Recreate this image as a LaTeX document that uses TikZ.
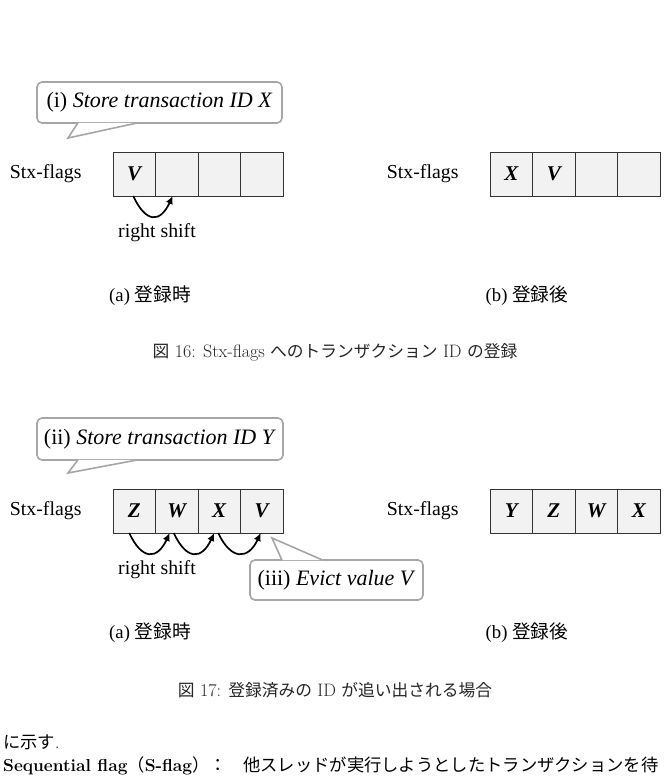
\documentclass[tikz,border=0pt]{standalone}
\usepackage{fontspec}
\usepackage{tikz}
\usetikzlibrary{arrows.meta,positioning}

\newfontfamily\timesfont{Liberation Serif}
\newfontfamily\jpfont{Noto Sans CJK JP}
\newfontfamily\jpcapfont[Scale=0.93]{Noto Sans CJK JP}

\newcommand{\figfont}{\timesfont\fontsize{19.8}{23}\selectfont}
\newcommand{\callfont}{\timesfont\fontsize{22}{26}\selectfont}
\newcommand{\cellfont}{\timesfont\bfseries\itshape\fontsize{21}{24}\selectfont}
\newcommand{\subcapfont}{\timesfont\fontsize{18.7}{22}\selectfont}
\newcommand{\capfont}{\fontsize{18}{21}\selectfont}
\newcommand{\bodyfont}{\fontsize{17.3}{21}\selectfont}

\begin{document}
\begin{tikzpicture}[
  x=1pt, y=1pt,
  cell/.style={draw=black!80, fill=black!5, line width=1pt, outer sep=0pt,
               inner sep=0pt, minimum width=42.5pt, minimum height=44pt,
               font=\cellfont},
  flaglabel/.style={font=\figfont},
  callbox/.style={draw=black!35, fill=white, line width=1.6pt,
                  rounded corners=5pt, inner sep=0pt, font=\callfont},
  calltail/.style={draw=black!35, fill=white, line width=1.6pt},
  shiftarrow/.style={-{Latex[length=8pt,width=7.5pt]}, line width=1.7pt},
  subcap/.style={font=\subcapfont},
  captext/.style={font=\capfont, text=black!85},
  bodytext/.style={font=\bodyfont, anchor=base west, inner sep=0pt}
]
\fill[white] (0,0) rectangle (669,-779);
\useasboundingbox (0,0) rectangle (669,-779);

% Fig. 16 (a): storing
\node[callbox, minimum width=245pt, minimum height=41pt] (storex) at (159.5,-102.5)
  {(i) \textit{Store transaction ID X}};
\coordinate (storextip) at (68,-138);
\path[calltail] ([xshift=-81.5pt,yshift=1pt]storex.south) -- (storextip)
  -- ([xshift=-21.5pt,yshift=1pt]storex.south);

\node[cell] (pre1) at (134.25,-174) {V};
\node[cell, right=0pt of pre1] (pre2) {};
\node[cell, right=0pt of pre2] (pre3) {};
\node[cell, right=0pt of pre3] (pre4) {};
\node[flaglabel, left=28pt of pre1] (prelbl) {Stx-flags};
\draw[shiftarrow] ([xshift=-1pt]pre1.south) .. controls +(-65:30) and +(-115:30) .. ([xshift=-4pt]pre2.south);
\node[flaglabel] (preshift) at (157,-233) {right shift};
\node[subcap] (suba1) at (150,-296) {(a) {\jpfont 登録時}};

% Fig. 16 (b): after storing
\node[cell] (post1) at (511.25,-174) {X};
\node[cell, right=0pt of post1] (post2) {V};
\node[cell, right=0pt of post2] (post3) {};
\node[cell, right=0pt of post3] (post4) {};
\node[flaglabel, left=28pt of post1] (postlbl) {Stx-flags};
\node[subcap] (subb1) at (527,-296) {(b) {\jpfont 登録後}};

\node[captext] (cap16) at (335,-352)
  {{\jpcapfont 図} 16: Stx-flags {\jpcapfont へのトランザクション} ID {\jpcapfont の登録}};

% Fig. 17 (a): storing with eviction
\node[callbox, minimum width=246pt, minimum height=42pt] (storey) at (160,-439)
  {(ii) \textit{Store transaction ID Y}};
\coordinate (storeytip) at (68,-473);
\path[calltail] ([xshift=-82pt,yshift=1pt]storey.south) -- (storeytip)
  -- ([xshift=-22pt,yshift=1pt]storey.south);

\node[cell] (epre1) at (134.25,-511) {Z};
\node[cell, right=0pt of epre1] (epre2) {W};
\node[cell, right=0pt of epre2] (epre3) {X};
\node[cell, right=0pt of epre3] (epre4) {V};
\node[flaglabel, left=28pt of epre1] (eprelbl) {Stx-flags};
\draw[shiftarrow] ([xshift=-5pt]epre1.south) .. controls +(-65:30) and +(-115:30) .. ([xshift=-7pt]epre2.south);
\draw[shiftarrow] ([xshift=-3pt]epre2.south) .. controls +(-65:30) and +(-115:30) .. ([xshift=-5pt]epre3.south);
\draw[shiftarrow] ([xshift=-1pt]epre3.south) .. controls +(-65:30) and +(-115:30) .. ([xshift=-1pt]epre4.south);
\node[flaglabel] (epreshift) at (157,-570) {right shift};

\node[callbox, minimum width=173pt, minimum height=40pt] (evictv) at (336.5,-580)
  {(iii) \textit{Evict value V}};
\coordinate (evictvtip) at (272,-538);
\path[calltail] ([xshift=-54.5pt,yshift=-1pt]evictv.north) -- (evictvtip)
  -- ([xshift=-13.5pt,yshift=-1pt]evictv.north);
\node[subcap] (suba2) at (150,-633) {(a) {\jpfont 登録時}};

% Fig. 17 (b): after eviction
\node[cell] (epost1) at (511.25,-511) {Y};
\node[cell, right=0pt of epost1] (epost2) {Z};
\node[cell, right=0pt of epost2] (epost3) {W};
\node[cell, right=0pt of epost3] (epost4) {X};
\node[flaglabel, left=28pt of epost1] (epostlbl) {Stx-flags};
\node[subcap] (subb2) at (527,-633) {(b) {\jpfont 登録後}};

\node[captext] (cap17) at (335,-690)
  {{\jpcapfont 図} 17: {\jpcapfont 登録済みの} ID {\jpcapfont が追い出される場合}};

% running text
\node[bodytext] (line1) at (3,-748) {{\jpfont に示す}.};
\node[bodytext] (sflag) at (3,-771)
  {\bfseries Sequential flag{\jpfont\mdseries （}S-flag{\jpfont\mdseries ）：}};
\node[bodytext] (line2) at (243,-771)
  {\jpfont 他スレッドが実行しようとしたトランザクションを待};
\end{tikzpicture}
\end{document}
